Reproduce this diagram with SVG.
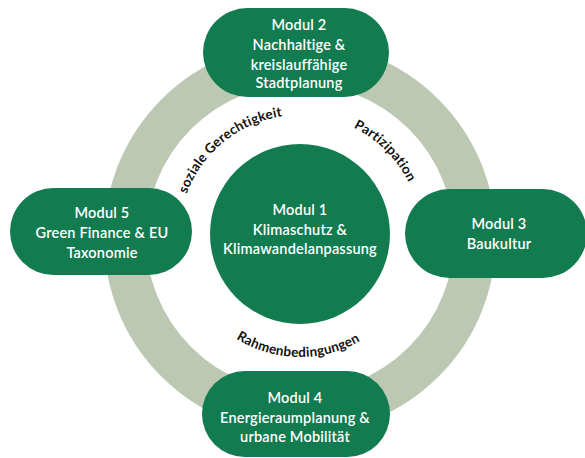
<svg xmlns="http://www.w3.org/2000/svg" width="585" height="458" viewBox="0 0 585 458">
<defs>
<style>
.ring{fill:none;stroke:#bcc8b2;stroke-width:42}
.node{fill:#127b4f}
.t{font-family:Lato,"Liberation Sans",sans-serif;font-size:14.5px;font-weight:600;fill:#ffffff;text-anchor:middle;letter-spacing:0.2px}
.lbl{font-family:Lato,"Liberation Sans",sans-serif;font-size:13.5px;font-weight:700;fill:#111111;text-anchor:middle;letter-spacing:0.2px}
</style>
<path id="arcSoz" d="M179.02,233.89 A121,121 0 0 1 323.09,117.22"/>
<path id="arcPart" d="M289.45,115.46 A121,121 0 0 1 420.54,246.55"/>
<path id="arcRahm" d="M205.97,312.15 A121,121 0 0 0 391.32,315.38"/>
</defs>
<rect width="585" height="458" fill="#ffffff"/>
<g id="connectors">
<circle class="ring" cx="300" cy="238" r="175"/>
</g>
<g id="labels">
<text class="lbl"><textPath href="#arcSoz" startOffset="50%">soziale Gerechtigkeit</textPath></text>
<text class="lbl"><textPath href="#arcPart" startOffset="50%">Partizipation</textPath></text>
<text class="lbl"><textPath href="#arcRahm" startOffset="50%">Rahmenbedingungen</textPath></text>
</g>
<g id="modul1">
<circle class="node" cx="300" cy="234" r="90"/>
<text class="t" x="300" y="215">Modul 1</text>
<text class="t" x="300" y="235">Klimaschutz &amp;</text>
<text class="t" x="300" y="254">Klimawandelanpassung</text>
</g>
<g id="modul2">
<rect class="node" x="203" y="8" width="186" height="89" rx="44.5"/>
<text class="t" x="299" y="30">Modul 2</text>
<text class="t" x="299" y="50">Nachhaltige &amp;</text>
<text class="t" x="299" y="70">kreislauffähige</text>
<text class="t" x="299" y="88">Stadtplanung</text>
</g>
<g id="modul3">
<rect class="node" x="405" y="189" width="182" height="89" rx="44.5"/>
<text class="t" x="499" y="229">Modul 3</text>
<text class="t" x="499" y="249">Baukultur</text>
</g>
<g id="modul4">
<rect class="node" x="202" y="371" width="188" height="86" rx="43"/>
<text class="t" x="295" y="403">Modul 4</text>
<text class="t" x="295" y="423">Energieraumplanung &amp;</text>
<text class="t" x="295" y="442">urbane Mobilität</text>
</g>
<g id="modul5">
<rect class="node" x="10" y="188" width="182" height="87" rx="43.5"/>
<text class="t" x="102" y="218">Modul 5</text>
<text class="t" x="102" y="238">Green Finance &amp; EU</text>
<text class="t" x="102" y="258">Taxonomie</text>
</g>
</svg>
